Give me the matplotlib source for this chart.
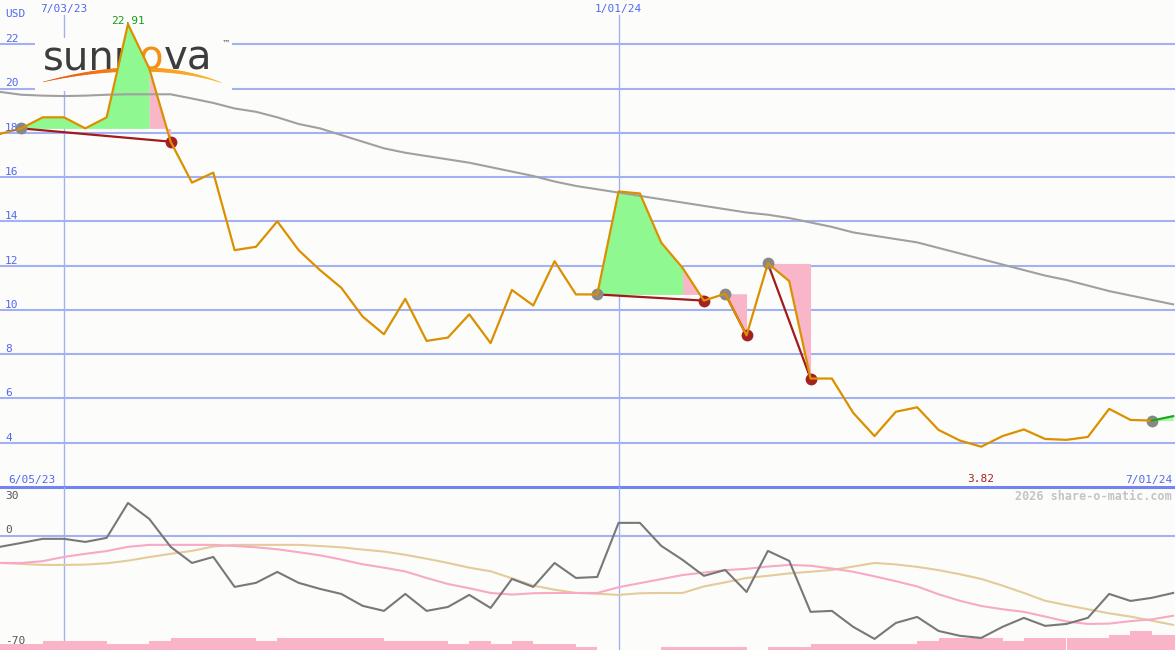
import numpy as np
import matplotlib.pyplot as plt
from matplotlib.collections import LineCollection
from matplotlib.patches import Rectangle
from matplotlib.transforms import Affine2D, blended_transform_factory
import matplotlib.colors as mcolors

# weekly close in USD, week 0 = 6/12/23, last week = 7/01/24
price = [17.95, 18.2, 18.7, 18.7, 18.2, 18.7, 22.91, 20.9, 17.6, 15.75,
         16.2, 12.7, 12.85, 14.0, 12.7, 11.8, 11.0, 9.7, 8.9, 10.5,
         8.6, 8.75, 9.8, 8.5, 10.9, 10.2, 12.2, 10.7, 10.7, 15.35,
         15.26, 13.04, 11.9, 10.42, 10.73, 8.85, 12.1, 11.3, 6.9, 6.9,
         5.35, 4.3, 5.4, 5.6, 4.58, 4.1, 3.82, 4.3, 4.6, 4.17,
         4.13, 4.26, 5.53, 5.03, 5.0, 5.2]
# long moving average (gray)
ma_long = [19.85, 19.72, 19.68, 19.66, 19.68, 19.72, 19.74, 19.74, 19.74, 19.55,
           19.35, 19.1, 18.95, 18.7, 18.4, 18.2, 17.9, 17.6, 17.3, 17.1,
           16.95, 16.8, 16.65, 16.45, 16.25, 16.05, 15.8, 15.6, 15.45, 15.3,
           15.15, 15.0, 14.85, 14.7, 14.55, 14.4, 14.3, 14.15, 13.95, 13.75,
           13.5, 13.35, 13.2, 13.05, 12.8, 12.55, 12.3, 12.05, 11.8, 11.55,
           11.35, 11.1, 10.85, 10.65, 10.45, 10.25]

# lower panel: momentum and its two smoothings
momentum = [-6.7, -4.3, -1.8, -1.8, -3.7, -1.2, 20.2, 10.4, -6.7, -16.6,
            -12.9, -31.3, -28.8, -22.1, -28.8, -32.5, -35.6, -42.9, -46.0, -35.6,
            -46.0, -43.6, -36.2, -44.2, -26.4, -31.3, -16.6, -25.8, -25.2, 8.0,
            8.0, -6.1, -14.7, -24.5, -20.9, -34.4, -9.2, -15.3, -46.6, -46.0,
            -55.8, -63.2, -53.4, -49.7, -58.3, -61.3, -62.6, -55.8, -50.3, -55.2,
            -54.0, -50.3, -35.6, -39.9, -38.0, -35.0]
mom_fast = [-16.6, -16.6, -15.5, -12.9, -11.0, -9.3, -6.7, -5.5, -5.5, -5.5,
            -5.5, -6.2, -7.0, -8.2, -10.0, -11.9, -14.5, -17.4, -19.5, -21.8,
            -25.8, -29.5, -32.1, -35.0, -36.0, -35.2, -35.0, -35.0, -35.0, -31.5,
            -29.0, -26.5, -24.0, -22.5, -21.0, -20.2, -18.8, -17.8, -18.3, -20.0,
            -22.0, -24.8, -27.8, -31.0, -35.8, -39.8, -43.0, -45.0, -46.6, -49.5,
            -52.5, -54.0, -53.8, -52.3, -51.2, -49.0]
mom_slow = [-16.6, -17.2, -17.8, -17.8, -17.6, -16.8, -15.2, -13.0, -11.0, -9.2,
            -6.5, -5.5, -5.5, -5.5, -5.5, -6.2, -7.0, -8.4, -9.6, -11.6,
            -14.0, -16.6, -19.5, -21.7, -26.0, -30.5, -33.0, -35.0, -35.5, -36.2,
            -35.2, -35.0, -35.0, -31.0, -28.5, -25.8, -24.5, -23.0, -22.0, -20.9,
            -18.8, -16.6, -17.5, -19.0, -21.0, -23.5, -26.4, -30.5, -35.0, -39.8,
            -42.5, -45.0, -47.5, -49.5, -52.0, -54.6]
# volume bars at the foot of the lower panel (panel units above -70)
volume_bar = [3.7, 3.7, 5.5, 5.5, 5.5, 3.7, 3.7, 5.5, 7.4, 7.4,
              7.4, 7.4, 5.5, 7.4, 7.4, 7.4, 7.4, 7.4, 5.5, 5.5,
              5.5, 3.7, 5.5, 3.7, 5.5, 3.7, 3.7, 1.8, 0, 0,
              0, 1.8, 1.8, 1.8, 1.8, 0, 1.8, 1.8, 3.7, 3.7,
              3.7, 3.7, 3.7, 5.5, 7.4, 7.4, 7.4, 5.5, 7.4, 7.4,
              7.4, 7.4, 9.2, 11.7, 9.2, 9.2]

buy_weeks = [1, 28, 34, 36, 54]
sell_weeks = [8, 33, 35, 38]

price_ticks = [4, 6, 8, 10, 12, 14, 16, 18, 20, 22]
osc_labels = ["30", "0", "-70"]
date_weeks = [3, 29]
date_labels = ["7/03/23", "1/01/24"]
start_label = "6/05/23"
end_label = "7/01/24"

# colours
bg = "#fcfdfb"
grid_c = "#a3b1f2"
blue_txt = "#5467ee"
orange = "#db9000"
dark_red = "#a01c1c"
green_fill = "#90f890"
pink_fill = "#f9b6c9"

W, H = 1175, 650
fig = plt.figure(figsize=(W / 100, H / 100), dpi=100)
fig.patch.set_facecolor(bg)
split = 163 / H
ax = fig.add_axes([0, split, 1, 1 - split])
ax2 = fig.add_axes([0, 0, 1, split])
weeks = np.arange(len(price))
for a in (ax, ax2):
    a.set_axis_off()
    a.set_xlim(0, W / 21.33)
ax.set_ylim(2, 24)
ax2.set_ylim(-70, 30)

# pixel transforms (origin top-left)
px_main = Affine2D().scale(1 / W, -1 / 487).translate(0, 1) + ax.transAxes
px_fig = Affine2D().scale(1 / W, -1 / H).translate(0, 1) + fig.transFigure
mono = "DejaVu Sans Mono"

# ---- main panel grid
for v in price_ticks:
    ax.axhline(v, color=grid_c, lw=1.5, zorder=1)
    ax.annotate(str(v), xy=(5 / W, v), xycoords=blended_transform_factory(ax.transAxes, ax.transData),
                xytext=(0, 1.5), textcoords="offset points", va="baseline", ha="left",
                fontsize=8, family=mono, color=blue_txt, zorder=6)
for w, lab in zip(date_weeks, date_labels):
    ax.axvline(w, ymin=0, ymax=1 - 15 / 487, color=grid_c, lw=1.0, zorder=1)
    ax2.axvline(w, color=grid_c, lw=1.0, zorder=1)
    ax.text(w, 1 - 9 / 487, lab, transform=blended_transform_factory(ax.transData, ax.transAxes),
            ha="center", va="center", fontsize=8, family=mono, color=blue_txt)
ax.axhline(2, color="#7384ee", lw=2.2, clip_on=False, zorder=5)
ax2.axhline(0, color=grid_c, lw=1.5, zorder=1)

# ---- logo
ax.add_patch(Rectangle((35, 38), 197, 53, transform=px_main, facecolor=bg, edgecolor="none", zorder=1.5))
ax.text(43, 70, "sunn", transform=px_main, fontsize=29, color="#3d3d3d", va="baseline", zorder=1.6)
ax.text(139, 70, "o", transform=px_main, fontsize=29, color="#f39016", va="baseline", zorder=1.6)
ax.text(163.5, 70, "va", transform=px_main, fontsize=29, color="#3d3d3d", va="baseline", zorder=1.6)
ax.text(222, 46, "™", transform=px_main, fontsize=6, color="#3d3d3d", va="baseline", zorder=1.6)
t = np.linspace(0, 1, 60)
p0, c, p2 = np.array([43, 82]), np.array([147.5, 56.5]), np.array([221, 82.5])
curve = (1 - t)[:, None] ** 2 * p0 + 2 * ((1 - t) * t)[:, None] * c + (t ** 2)[:, None] * p2
segs = np.stack([curve[:-1], curve[1:]], axis=1)
cmap = mcolors.LinearSegmentedColormap.from_list("sw", ["#e8500f", "#f7941d", "#fbbb30"])
lc = LineCollection(segs, colors=cmap(t[:-1]), linewidths=0.4 + 2.6 * np.sin(np.pi * t[:-1]),
                    transform=px_main, zorder=1.6, capstyle="round")
ax.add_collection(lc)

# ---- trades: fills, links, markers
for k, b in enumerate(buy_weeks):
    entry = price[b]
    if k < len(sell_weeks):
        s = sell_weeks[k]
        cols = [green_fill if (i < s - 1 and price[i + 1] >= entry) else pink_fill for i in range(b, s)]
        # merge runs of the same colour so there are no seams
        r0 = b
        for j in range(1, len(cols) + 1):
            if j == len(cols) or cols[j] != cols[j - 1]:
                r1 = b + j
                ax.fill_between(weeks[r0:r1 + 1], price[r0:r1 + 1], entry,
                                color=cols[j - 1], lw=0, zorder=2)
                r0 = r1
        ax.plot([b, s], [entry, price[s]], color=dark_red, lw=1.6, zorder=3)
        ax.plot(s, price[s], "o", ms=8.5, color="#a52020", mec="none", zorder=4)
    else:
        ax.fill_between(weeks[b:], price[b:], entry, color="#a8f8a8", lw=0, zorder=2)
    ax.plot(b, entry, "o", ms=8.5, color="#888888", mec="none", zorder=4)

ax.plot(weeks, ma_long, color="#a0a0a0", lw=1.5, zorder=2.5)
ax.plot(weeks[:buy_weeks[-1] + 1], price[:buy_weeks[-1] + 1], color=orange, lw=1.6, zorder=5)
ax.plot(weeks[buy_weeks[-1]:], price[buy_weeks[-1]:], color="#22a522", lw=1.6, zorder=5)

hi = int(np.argmax(price))
lo = int(np.argmin(price))
ax.annotate(f"{price[hi]:.2f}", xy=(hi, price[hi]), xytext=(0, -1), textcoords="offset points",
            ha="center", va="bottom", fontsize=8, family=mono, color="#1a9a1a")
ax.text(lo, 3 / 487, f"{price[lo]:.2f}", transform=blended_transform_factory(ax.transData, ax.transAxes),
        ha="center", va="bottom", fontsize=8, family=mono, color="#a52020")

ax.text(5, 14, "USD", transform=px_main, ha="left", va="center", fontsize=8, family=mono, color=blue_txt)
ax.text(8, 480, start_label, transform=px_main, ha="left", va="center", fontsize=8, family=mono, color=blue_txt)
ax.text(1172, 480, end_label, transform=px_main, ha="right", va="center", fontsize=8, family=mono, color=blue_txt)

# ---- lower panel
ax2.bar(weeks, volume_bar, width=1.0, bottom=-70, align="edge", color="#f9b4c8", lw=0, zorder=1.5)
ax2.plot(weeks, mom_slow, color="#e3cb9a", lw=1.5, zorder=2)
ax2.plot(weeks, mom_fast, color="#f7a9c6", lw=1.5, zorder=2)
ax2.plot(weeks, momentum, color="#787878", lw=1.5, zorder=3)
for lab, py in zip(osc_labels, [496, 530, 641]):
    fig.text(5, py, lab, transform=px_fig, ha="left", va="center", fontsize=8, family=mono, color="#555555")
fig.text(1172, 496, "2026 share-o-matic.com", transform=px_fig, ha="right", va="center",
         fontsize=8.5, family=mono, fontweight="bold", color="#c4c4c4")

fig.savefig("out.png", dpi=100, facecolor=bg)
